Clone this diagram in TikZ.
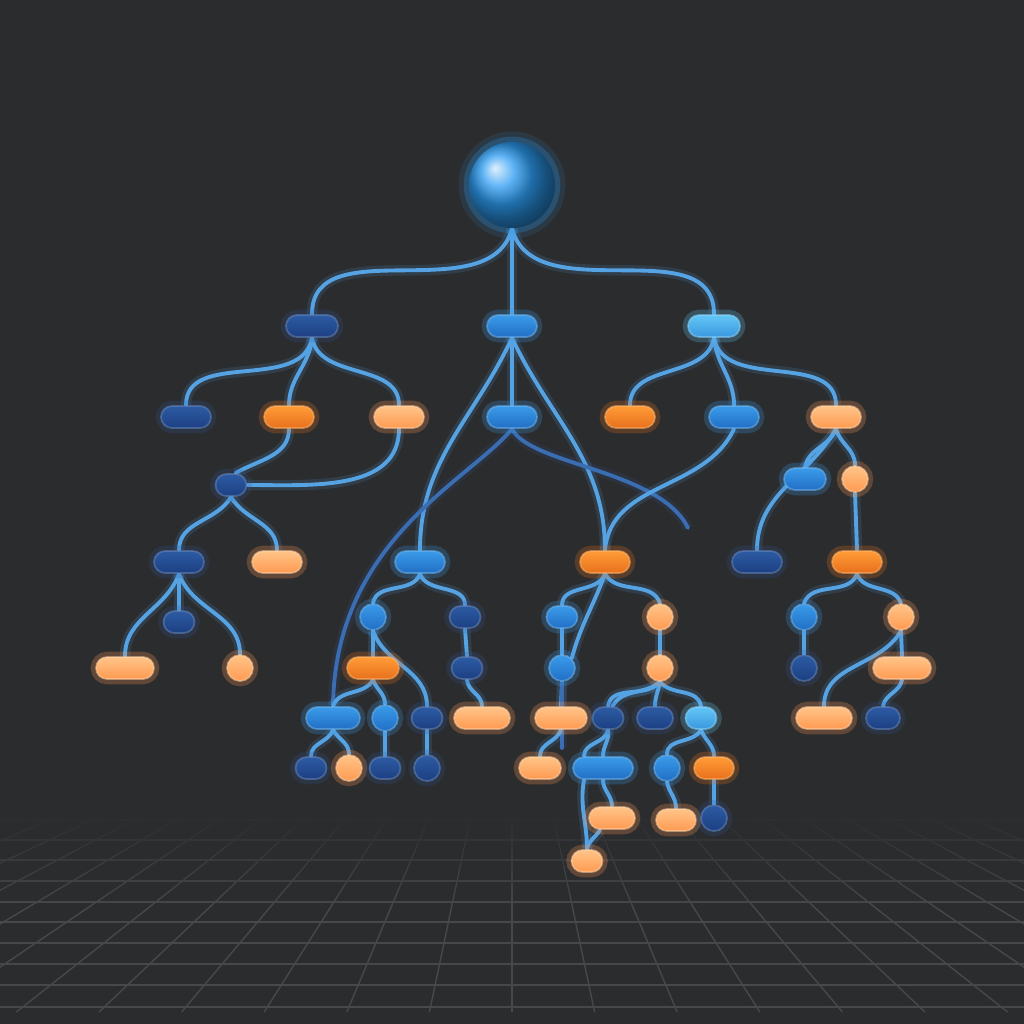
\documentclass[tikz,border=0pt]{standalone}
\usepackage{xcolor}
\usepackage{tikz}
\usetikzlibrary{shapes.misc,fadings}

\definecolor{bgGray}{HTML}{2B2C2E}
\definecolor{gridGray}{HTML}{46484C}
\definecolor{wireBlue}{HTML}{56A3E4}
\definecolor{wireDim}{HTML}{3A6DB2}
\definecolor{darkTop}{HTML}{2D5BA3}
\definecolor{darkBot}{HTML}{1D3F82}
\definecolor{midTop}{HTML}{3B9BE9}
\definecolor{midBot}{HTML}{216FC6}
\definecolor{lightTop}{HTML}{63C6F6}
\definecolor{lightBot}{HTML}{3A98DF}
\definecolor{warmTop}{HTML}{FF9C38}
\definecolor{warmBot}{HTML}{E8701C}
\definecolor{paleTop}{HTML}{FFC488}
\definecolor{paleBot}{HTML}{FF9A52}
\definecolor{rootBlue}{HTML}{2C9CF2}

\pgfdeclarelayer{floor}
\pgfdeclarelayer{wires}
\pgfsetlayers{floor,wires,main}

\begin{document}
\begin{tikzpicture}[x=0.1mm, y=-0.1mm]
    % Styles
    \tikzstyle{pill} = [rounded rectangle, minimum width=5mm, minimum height=2.2mm, inner sep=0pt, line width=0.5pt]
    \tikzstyle{tab} = [pill, minimum width=3.1mm]
    \tikzstyle{dot} = [circle, minimum size=2.6mm, inner sep=0pt, line width=0.5pt]
    \tikzstyle{darknode} = [top color=darkTop, bottom color=darkBot, draw=darkTop!70!white, draw opacity=0.5, preaction={draw=darkTop, line width=3pt, draw opacity=0.2}]
    \tikzstyle{midnode} = [top color=midTop, bottom color=midBot, draw=midTop!70!white, draw opacity=0.5, preaction={draw=midTop, line width=3pt, draw opacity=0.25}]
    \tikzstyle{lightnode} = [top color=lightTop, bottom color=lightBot, draw=lightTop!70!white, draw opacity=0.5, preaction={draw=lightTop, line width=3pt, draw opacity=0.25}]
    \tikzstyle{warmnode} = [top color=warmTop, bottom color=warmBot, draw=warmTop!70!white, draw opacity=0.5, preaction={draw=warmBot, line width=3pt, draw opacity=0.25}]
    \tikzstyle{palenode} = [top color=paleTop, bottom color=paleBot, draw=paleTop!70!white, draw opacity=0.5, preaction={draw=paleBot, line width=3pt, draw opacity=0.25}]
    \tikzstyle{wire} = [draw=wireBlue, line width=1.1pt, line cap=round, preaction={draw=wireBlue, line width=3pt, draw opacity=0.15}]
    \tikzstyle{dimwire} = [draw=wireDim, line width=1.1pt, line cap=round, preaction={draw=wireDim, line width=3pt, draw opacity=0.12}]

    \useasboundingbox (0,0) rectangle (1024,1024);

    % Floor
    \begin{pgfonlayer}{floor}
        \fill[bgGray] (0,0) rectangle (1024,1024);
        \begin{scope}
            \clip (0,815) rectangle (1024,1012);
            \foreach \y in {820,840,860,881,902,922,943,964,985,1007}
                \draw[gridGray, line width=0.4pt] (0,\y) -- (1024,\y);
            \foreach \k in {-14,...,14}
                \draw[gridGray, line width=0.4pt] ({512+41*\k},815) -- ({512+82.6*\k},1012);
        \end{scope}
        \fill[bgGray, path fading=south] (0,812) rectangle (1024,905);
    \end{pgfonlayer}

    % Nodes
    \node[circle, minimum size=8.6mm, inner sep=0pt, ball color=rootBlue,
          preaction={draw=rootBlue, line width=6pt, draw opacity=0.12},
          preaction={draw=rootBlue, line width=3pt, draw opacity=0.25}] (root) at (512,185) {};

    \node[pill, darknode, minimum width=5.2mm] (la) at (312,326) {};
    \node[pill, midnode] (lb) at (512,326) {};
    \node[pill, lightnode, minimum width=5.2mm] (lc) at (714,326) {};

    \node[pill, darknode] (a1) at (186,417) {};
    \node[pill, warmnode] (a2) at (289,417) {};
    \node[pill, palenode] (a3) at (399,417) {};
    \node[pill, midnode] (b1) at (512,417) {};
    \node[pill, warmnode] (c1) at (630,417) {};
    \node[pill, midnode] (c2) at (734,417) {};
    \node[pill, palenode] (c3) at (836,417) {};

    \node[tab, darknode] (d) at (231,485) {};
    \node[pill, midnode, minimum width=4.2mm] (e1) at (805,479) {};
    \node[dot, palenode] (e2) at (855,479) {};

    \node[pill, darknode] (h1) at (179,562) {};
    \node[pill, palenode] (h2) at (277,562) {};
    \node[pill, midnode] (i1) at (420,562) {};
    \node[pill, warmnode] (i2) at (605,562) {};
    \node[pill, darknode] (f) at (757,562) {};
    \node[pill, warmnode] (g) at (857,562) {};

    \node[tab, darknode] (s1) at (179,622) {};
    \node[dot, midnode] (k) at (373,617) {};
    \node[tab, darknode] (kk) at (465,617) {};
    \node[tab, midnode] (m1) at (562,617) {};
    \node[dot, palenode] (m2) at (660,617) {};
    \node[dot, midnode] (n1) at (804,617) {};
    \node[dot, palenode] (n2) at (901,617) {};

    \node[pill, palenode, minimum width=5.8mm] (j1) at (125,668) {};
    \node[dot, palenode] (j2) at (240,668) {};
    \node[pill, warmnode, minimum width=5.2mm] (o) at (373,668) {};
    \node[tab, darknode] (r) at (467,668) {};
    \node[dot, midnode] (m3) at (562,668) {};
    \node[dot, palenode] (w) at (660,668) {};
    \node[dot, darknode] (y1) at (804,668) {};
    \node[pill, palenode, minimum width=5.8mm] (y2) at (902,668) {};

    \node[pill, midnode, minimum width=5.4mm] (q) at (333,718) {};
    \node[dot, midnode] (u) at (385,718) {};
    \node[tab, darknode] (p) at (427,718) {};
    \node[pill, palenode, minimum width=5.6mm] (t) at (482,718) {};
    \node[pill, palenode, minimum width=5.2mm] (v) at (561,718) {};
    \node[tab, darknode] (x1) at (608,718) {};
    \node[tab, darknode, minimum width=3.6mm] (x2) at (655,718) {};
    \node[tab, lightnode] (x3) at (701,718) {};
    \node[pill, palenode, minimum width=5.6mm] (y3) at (824,718) {};
    \node[tab, darknode, minimum width=3.4mm] (y4) at (883,718) {};

    \node[tab, darknode] (z1) at (311,768) {};
    \node[dot, palenode] (z2) at (349,768) {};
    \node[tab, darknode] (z3) at (385,768) {};
    \node[dot, darknode] (z4) at (427,768) {};
    \node[pill, palenode, minimum width=4.2mm] (z5) at (540,768) {};
    \node[pill, midnode, minimum width=6mm] (z6) at (603,768) {};
    \node[dot, midnode] (z7) at (667,768) {};
    \node[pill, warmnode, minimum width=4mm] (z8) at (714,768) {};

    \node[pill, palenode, minimum width=4.6mm] (z9) at (612,818) {};
    \node[pill, palenode, minimum width=4mm] (z11) at (676,820) {};
    \node[dot, darknode] (z12) at (714,818) {};
    \node[tab, palenode] (z10) at (587,861) {};

    \coordinate (stub1) at (688,528);
    \coordinate (stub2) at (562,748);

    % Wires
    \begin{pgfonlayer}{wires}
        \draw[wire] (root.south) to[out=-105, in=90] (la.north);
        \draw[wire] (root.south) -- (lb.north);
        \draw[wire] (root.south) to[out=-75, in=90] (lc.north);

        \draw[wire] (la.south) to[out=-100, in=90] (a1.north);
        \draw[wire] (la.south) to[out=-95, in=90] (a2.north);
        \draw[wire] (la.south) to[out=-80, in=90] (a3.north);
        \draw[wire] (lb.south) -- (b1.north);
        \draw[wire] (lb.south) to[out=-115, in=90] (i1.north);
        \draw[wire] (lb.south) to[out=-65, in=90] (i2.north);
        \draw[wire] (lc.south) to[out=-100, in=90] (c1.north);
        \draw[wire] (lc.south) to[out=-85, in=90] (c2.north);
        \draw[wire] (lc.south) to[out=-80, in=90] (c3.north);

        \draw[wire] (a2.south) to[out=-90, in=30] (d.north east);
        \draw[wire] (a3.south) to[out=-90, in=0] (d.east);
        \draw[dimwire] (b1.south) .. controls (470,480) and (335,540) .. (q.north);
        \draw[dimwire] (b1.south) .. controls (530,465) and (660,470) .. (stub1);
        \draw[wire] (c2.south) to[out=-115, in=85] (i2.north);
        \draw[wire] (c3.south) to[out=-110, in=80] (e1.north);
        \draw[wire] (c3.south) to[out=-120, in=90] (f.north);
        \draw[wire] (c3.south) to[out=-75, in=90] (e2.north);
        \draw[wire] (e2.south) -- (g.north);

        \draw[wire] (d.south) to[out=-120, in=90] (h1.north);
        \draw[wire] (d.south) to[out=-60, in=90] (h2.north);
        \draw[wire] (h1.south) -- (s1.north);
        \draw[wire] (h1.south) to[out=-110, in=90] (j1.north);
        \draw[wire] (h1.south) to[out=-70, in=90] (j2.north);

        \draw[wire] (i1.south) to[out=-110, in=80] (k.north);
        \draw[wire] (i1.south) to[out=-70, in=90] (kk.north);
        \draw[wire] (i2.south) to[out=-110, in=90] (m1.north);
        \draw[wire] (i2.south) to[out=-110, in=75] (m3.north east);
        \draw[wire] (i2.south) to[out=-60, in=110] (m2.north);
        \draw[wire] (g.south) to[out=-110, in=70] (n1.north);
        \draw[wire] (g.south) to[out=-70, in=110] (n2.north);

        \draw[wire] (k.south) -- (o.north);
        \draw[wire] (k.south) to[out=-70, in=90] (p.north);
        \draw[wire] (kk.south) -- (r.north);
        \draw[wire] (r.south) to[out=-85, in=90] (t.north);
        \draw[wire] (m1.south) -- (m3.north);
        \draw[wire] (m3.south) -- (v.north);
        \draw[dimwire] (m3.south) -- (stub2);
        \draw[wire] (m2.south) -- (w.north);
        \draw[wire] (n1.south) -- (y1.north);
        \draw[wire] (n2.south) -- (y2.north);
        \draw[wire] (n2.south) to[out=-120, in=90] (y3.north);
        \draw[wire] (y2.south) to[out=-100, in=80] (y4.north);

        \draw[wire] (o.south) to[out=-120, in=70] (q.north);
        \draw[wire] (o.south) to[out=-70, in=90] (u.north);
        \draw[wire] (w.south) to[out=-130, in=80] (x1.north);
        \draw[wire] (w.south) to[out=-140, in=60] (x1.north east);
        \draw[wire] (w.south) to[out=-100, in=90] (x2.north);
        \draw[wire] (w.south) to[out=-50, in=100] (x3.north);

        \draw[wire] (q.south) to[out=-110, in=90] (z1.north);
        \draw[wire] (q.south) to[out=-60, in=90] (z2.north);
        \draw[wire] (u.south) -- (z3.north);
        \draw[wire] (p.south) -- (z4.north);
        \draw[wire] (v.south) to[out=-110, in=90] (z5.north);
        \draw[wire] (x1.south) to[out=-100, in=90] (z6.north west);
        \draw[wire] (x1.south) to[out=-80, in=90] (z6.north);
        \draw[wire] (x3.south) to[out=-120, in=90] (z7.north);
        \draw[wire] (x3.south) to[out=-70, in=90] (z8.north);

        \draw[wire] (z6.south) to[out=-90, in=90] (z9.north);
        \draw[wire] (z6.south west) to[out=-100, in=90] (z10.north);
        \draw[wire] (z9.south west) to[out=-120, in=80] (z10.north);
        \draw[wire] (z7.south) to[out=-80, in=90] (z11.north);
        \draw[wire] (z8.south) -- (z12.north);
    \end{pgfonlayer}

\end{tikzpicture}
\end{document}
